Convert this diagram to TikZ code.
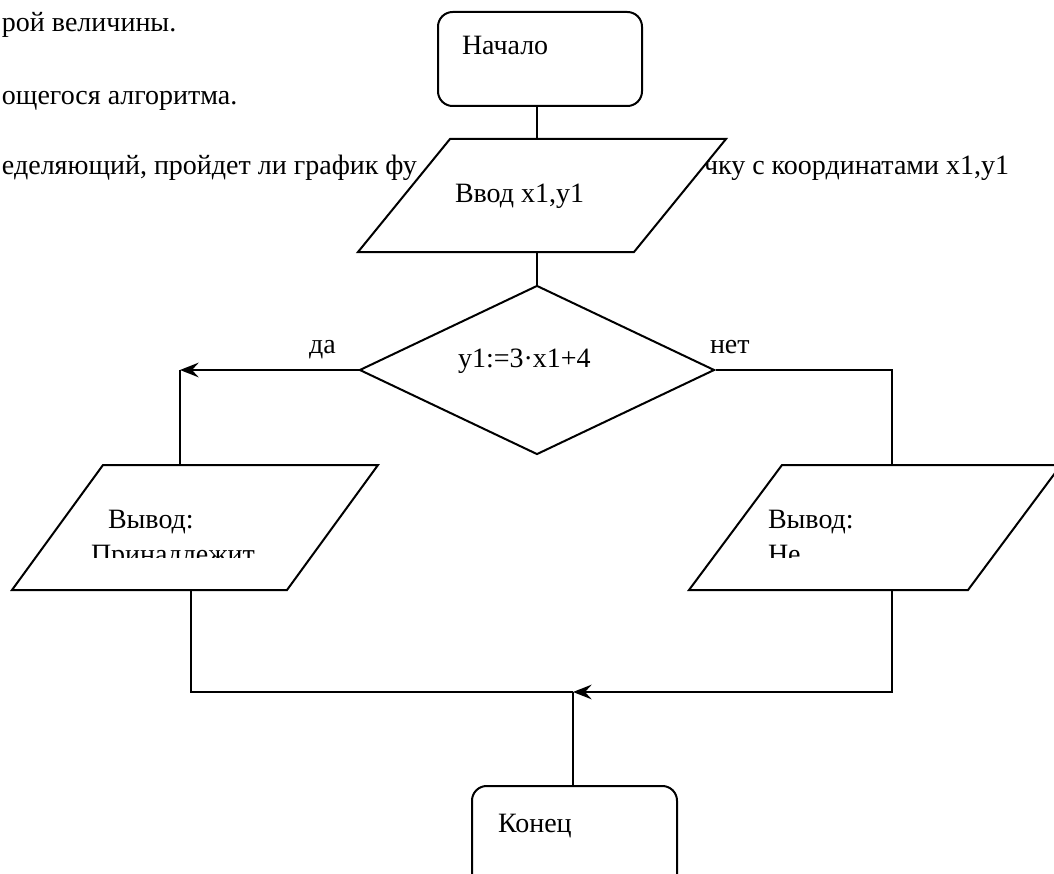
\documentclass[tikz,border=0pt]{standalone}
\usepackage{fontspec}
\setmainfont{Liberation Serif}
\usetikzlibrary{arrows.meta,shapes.geometric}
\tikzset{
  lbl/.style={inner sep=0pt, anchor=base west, font=\fontsize{21pt}{25pt}\selectfont},
  term/.style={draw, rounded corners=11pt, fill=white, inner sep=0pt},
  dec/.style={draw, diamond, fill=white, inner sep=0pt},
  io/.style={draw, fill=white},
  arr/.style={-{Stealth[length=14pt,width=11pt,inset=5pt]}},
}
\begin{document}
\begin{tikzpicture}[x=0.75pt,y=-0.75pt,line width=1.5pt]
\clip (0,0) rectangle (1054,874);
\fill[white] (0,0) rectangle (1054,874);
% background text of the page
\node[lbl] (t1) at (1,32) {рой величины.};
\node[lbl] (t2) at (1,104) {ощегося алгоритма.};
\node[lbl] (t3) at (1,174) {еделяющий, пройдет ли график фу};
\node[lbl] (t4) at (703,174) {чку с координатами x1,y1};

% start
\node[term, minimum width=153pt, minimum height=70.5pt] (start) at (540,59) {};
\node[lbl] (startT) at (461,55) {Начало};

% input
\coordinate (inA) at (450,139);
\coordinate (inB) at (726,139);
\coordinate (inC) at (634,252);
\coordinate (inD) at (358,252);
\coordinate (inN) at (537,139);
\coordinate (inS) at (537,252);
\draw[io] (inA) -- (inB) -- (inC) -- (inD) -- cycle;
\node[lbl] (inT) at (454,202) {Ввод x1,y1};

% decision
\node[dec, minimum width=266.25pt, minimum height=126.75pt] (dec) at (537,370) {};
\node[lbl] (decT) at (457,367) {y1:=3·x1+4};
\node[lbl] (yes) at (308,353) {да};
\node[lbl] (no) at (709,353) {нет};

% left output
\coordinate (oLA) at (103,465);
\coordinate (oLB) at (378,465);
\coordinate (oLC) at (287,590);
\coordinate (oLD) at (12,590);
\coordinate (oLN) at (180,465);
\coordinate (oLS) at (191,590);
\draw[io] (oLA) -- (oLB) -- (oLC) -- (oLD) -- cycle;

% right output
\coordinate (oRA) at (782,465);
\coordinate (oRB) at (1061,465);
\coordinate (oRC) at (968,590);
\coordinate (oRD) at (689,590);
\coordinate (oRN) at (892,465);
\coordinate (oRS) at (892,590);
\draw[io] (oRA) -- (oRB) -- (oRC) -- (oRD) -- cycle;

\node[lbl] (oLT1) at (107,528) {Вывод:};
\node[lbl] (oRT1) at (767,528) {Вывод:};
\begin{scope}
  \clip (0,530) rectangle (1054,557);
  \node[lbl] (oLT2) at (90,563) {Принадлежит};
  \node[lbl] (oRT2) at (767,563) {Не};
\end{scope}

% end
\node[term, minimum width=153.75pt, minimum height=85.5pt] (end) at (574.5,843) {};
\node[lbl] (endT) at (497,832) {Конец};

% connectors
\coordinate (cL) at (180,370);
\coordinate (cR) at (892,370);
\coordinate (bL) at (191,692);
\coordinate (bR) at (892,692);
\coordinate (join) at (573,692);

\draw (start.south -| inN) -- (inN);
\draw (inS) -- (dec.north);
\draw[arr] (dec.west) -- (cL);
\draw (cL) -- (oLN);
\draw (dec.east) -- (cR) -- (oRN);
\draw (oLS) -- (bL) -- (join);
\draw[arr] (oRS) -- (bR) -- (join);
\draw (join) -- (join |- end.north);
\end{tikzpicture}
\end{document}
